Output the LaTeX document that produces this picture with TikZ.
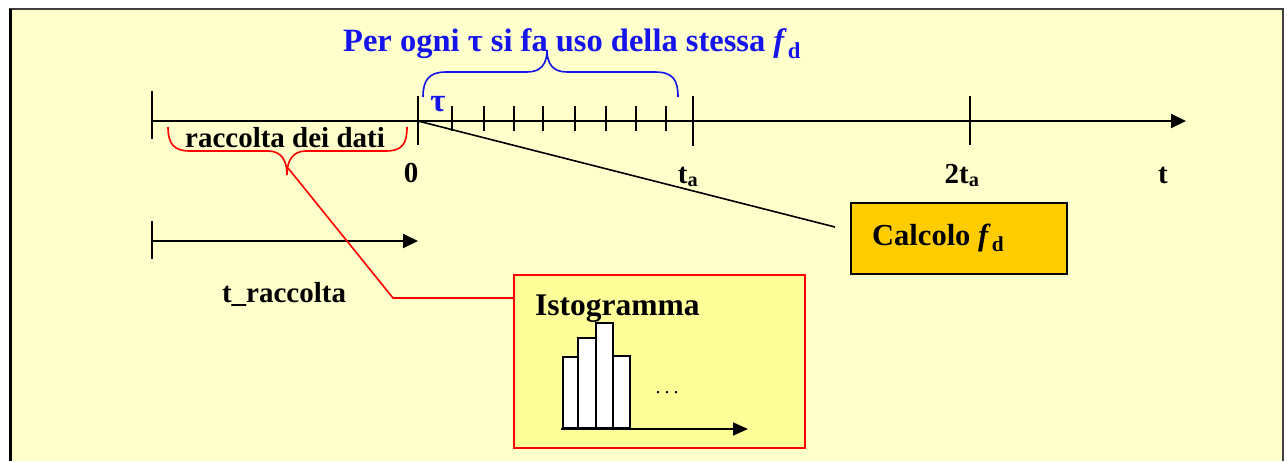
\documentclass[tikz,border=0pt]{standalone}
\usepackage{fontspec}
\setmainfont{Liberation Serif}
\usetikzlibrary{arrows.meta}
\definecolor{bgyellow}{RGB}{255,255,204}
\definecolor{gold}{RGB}{255,204,0}
\definecolor{paleyellow}{RGB}{255,255,153}
\definecolor{titleblue}{RGB}{20,20,235}
\tikzset{
  lbl/.style={font=\fontsize{29}{32}\selectfont\bfseries, inner sep=0pt, anchor=base},
  axis/.style={line width=2pt, -{Triangle[length=15pt,width=14pt]}},
  tick/.style={line width=1.4pt},
  smalltick/.style={line width=1.2pt},
  bar/.style={draw=black, line width=1.6pt, fill=white},
}
\begin{document}
\begin{tikzpicture}[x=1pt,y=-1pt]
\useasboundingbox (0,0) rectangle (1287,461);
% background frame
\fill[white] (0,0) rectangle (1287,461);
\fill[bgyellow] (10,9) rectangle (1283,461);
\draw[line width=2pt, black!75] (10,461) -- (10,9) -- (1283,9) -- (1283,461);
\draw[line width=3pt] (10,9) -- (10,461);

% main axis
\coordinate (start) at (152,121);
\coordinate (zero) at (418,121);
\coordinate (tend) at (1186,121);
\draw[axis] (start) -- (tend);
\draw[tick] (152,91) -- (152,139);
\draw[tick] (418,96) -- (418,145);
\draw[tick] (693,96) -- (693,146);
\draw[tick] (970,96) -- (970,145);
\foreach \x in {452,484,514,543,575,606,636,666}
  \draw[smalltick] (\x,106) -- (\x,131);

% labels on axis
\node[lbl] (l0) at (411,182) {0};
\node[lbl] (lta) at (688,183) {t\textsubscript{a}};
\node[lbl] (l2ta) at (962,183) {2t\textsubscript{a}};
\node[lbl] (lt) at (1163,183) {t};

% blue brace and title
\draw[titleblue, line width=1.6pt]
  (423,97) .. controls (423,80) and (429,72) .. (446,72) -- (527,72)
  .. controls (541,72) and (547,64) .. (547,50)
  .. controls (547,64) and (553,72) .. (567,72) -- (655,72)
  .. controls (673,72) and (678,80) .. (678,97);
\node[lbl, font=\fontsize{32.5}{36}\selectfont\bfseries, anchor=base west, text=titleblue] (title) at (343,51)
  {Per ogni τ si fa uso della stessa \textit{f}\kern1pt\textsubscript{d}};
\node[lbl, font=\fontsize{33}{36}\selectfont\bfseries, text=titleblue] (tau) at (438,111) {τ};

% red brace
\draw[red, line width=1.6pt]
  (168,127) .. controls (168,144) and (174,151) .. (190,151) -- (268,151)
  .. controls (281,151) and (287,160) .. (287,175)
  .. controls (287,160) and (293,151) .. (306,151) -- (386,151)
  .. controls (402,151) and (407,144) .. (407,127);
\node[lbl] (raccolta) at (285,147) {raccolta dei dati};
\coordinate (bracetip) at (288,168);
\coordinate (bend) at (393,298);

% second arrow
\coordinate (s2) at (152,241);
\coordinate (e2) at (418,241);
\draw[axis] (s2) -- (e2);
\draw[tick] (152,221) -- (152,259);
\node[lbl] (traccolta) at (284,302) {t\_raccolta};

% Calcolo box
\node[draw=black, line width=2pt, fill=gold, minimum width=216pt, minimum height=71pt, inner sep=0pt] (calc) at (959,238.5) {};
\node[lbl, font=\fontsize{30.5}{34}\selectfont\bfseries, anchor=base west] (calctext) at (872,245) {Calcolo \textit{f}\kern1pt\textsubscript{d}};
\coordinate (calcin) at (835,227);
\draw[line width=1.6pt] (zero) -- (calcin);

% Istogramma box
\node[draw=red, line width=2pt, fill=paleyellow, minimum width=291pt, minimum height=173pt, inner sep=0pt] (isto) at (659.5,361.5) {};
\node[font=\fontsize{31.5}{34}\selectfont\bfseries, inner sep=0pt, anchor=base west] (istotext) at (535,315) {Istogramma};
\draw[bar] (563,428) rectangle (578,357);
\draw[bar] (578,428) rectangle (596,338);
\draw[bar] (596,428) rectangle (613,323);
\draw[bar] (613,428) rectangle (630,356);
\coordinate (h0) at (561,429);
\coordinate (h1) at (748,429);
\draw[line width=1.6pt, -{Triangle[length=15pt,width=13pt]}] (h0) -- (h1);
\node[font=\fontsize{20}{22}\selectfont, inner sep=0pt] (dots) at (667,393) {.\hspace{4pt}.\hspace{4pt}.};

% red connector
\draw[red, line width=1.6pt] (bracetip) -- (bend) -- (isto.west |- bend);
\end{tikzpicture}
\end{document}
